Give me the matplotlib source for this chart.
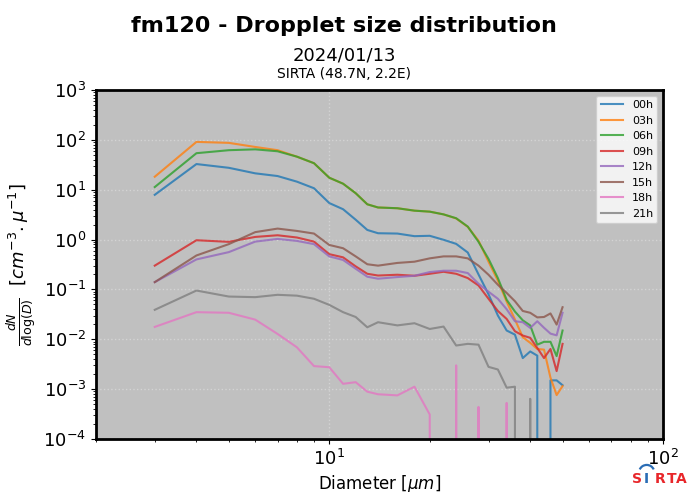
import numpy as np
import matplotlib
matplotlib.use('Agg')
import matplotlib.pyplot as plt
from matplotlib.patches import Arc

# bin diameters (um)
diam = [3, 4, 5, 6, 7, 8, 9, 10, 11, 12, 13, 14, 16, 18, 20, 22, 24, 26, 28, 30,
        32, 34, 36, 38, 40, 42, 44, 46, 48, 50]

h00 = [7.9, 32.7, 27.5, 21.3, 18.8, 14.5, 10.7, 5.4, 4.06, 2.5, 1.56, 1.34, 1.32, 1.17, 1.19,
       0.99, 0.82, 0.55, 0.2, 0.08, 0.03, 0.015, 0.0124, 0.0042, 0.0057, 0.0047, 0, 0.0015,
       0.0015, 0.0012]
h03 = [18.2, 91, 87, 72, 62, 46, 34, 17.4, 13.2, 8.5, 5.1, 4.4, 4.25, 3.8, 3.63, 3.2, 2.65,
       1.8, 0.95, 0.36, 0.15, 0.057, 0.025, 0.011, 0.0085, 0.0064, 0.0062, 0.0017, 0.00076,
       0.00115]
h06 = [11.3, 54, 62, 64.5, 59, 46, 34, 17.4, 13.2, 8.5, 5.1, 4.4, 4.25, 3.8, 3.63, 3.2, 2.68,
       1.82, 0.9, 0.41, 0.169, 0.062, 0.036, 0.024, 0.019, 0.0078, 0.0089, 0.0089, 0.0046,
       0.015]
h09 = [0.30, 0.97, 0.90, 1.13, 1.22, 1.10, 0.91, 0.51, 0.44, 0.29, 0.206, 0.19, 0.197, 0.188,
       0.206, 0.226, 0.206, 0.169, 0.12, 0.065, 0.037, 0.0256, 0.0145, 0.0119, 0.0107, 0.0067,
       0.0042, 0.0064, 0.0023, 0.0081]
h12 = [0.14, 0.40, 0.56, 0.91, 1.03, 0.94, 0.81, 0.46, 0.39, 0.26, 0.18, 0.164, 0.177, 0.188,
       0.223, 0.237, 0.237, 0.213, 0.13, 0.09, 0.065, 0.04, 0.023, 0.022, 0.0169, 0.023, 0.017,
       0.013, 0.012, 0.034]
h15 = [0.14, 0.48, 0.81, 1.41, 1.66, 1.49, 1.32, 0.78, 0.67, 0.46, 0.32, 0.30, 0.34, 0.36,
       0.42, 0.46, 0.46, 0.42, 0.30, 0.197, 0.124, 0.085, 0.058, 0.037, 0.034, 0.0275, 0.028,
       0.033, 0.0197, 0.044]
h18 = [0.0177, 0.035, 0.034, 0.0248, 0.0128, 0.0069, 0.0029, 0.00275, 0.00128, 0.00138,
       0.00089, 0.00079, 0.00075, 0.00112, 0.00031, 0, 0.003, 0, 0.00044, 0, 0, 0.00053, 0, 0,
       0, 0, 0, 0, 0, 0]
h21 = [0.039, 0.095, 0.072, 0.070, 0.078, 0.075, 0.065, 0.049, 0.035, 0.028, 0.0174, 0.022,
       0.019, 0.021, 0.0161, 0.018, 0.0075, 0.0081, 0.0078, 0.0028, 0.00248, 0.00107, 0.00112,
       0, 0.00064, 0, 0, 0, 0, 0]

hours = ['00h', '03h', '06h', '09h', '12h', '15h', '18h', '21h']
series = [h00, h03, h06, h09, h12, h15, h18, h21]

fig = plt.figure(figsize=(6.88, 4.92), dpi=100)
ax = fig.add_axes([0.1395, 0.1077, 0.8242, 0.7094])
ax.set_facecolor('#c0c0c0')

for lab, vals in zip(hours, series):
    ax.plot(diam, vals, label=lab, lw=1.5, alpha=0.8)

ax.set_xscale('log')
ax.set_yscale('log')
ax.set_xlim(2, 100)
ax.set_ylim(1e-4, 1e3)
ax.grid(True, which='major', ls=':', color='#d4d4d4', lw=1)
ax.tick_params(labelsize=13)
for s in ax.spines.values():
    s.set_linewidth(2)

ax.set_xlabel(r'Diameter [$\mu m$]', fontsize=12, labelpad=3)
ax.set_ylabel(r'$\frac{dN}{d\log(D)}$  $[cm^{-3}.\mu^{-1}]$', fontsize=13)
ax.legend(loc='upper right', fontsize=8)

fig.text(0.5, 0.947, 'fm120 - Dropplet size distribution', ha='center', va='center',
         fontsize=16, fontweight='bold')
fig.text(0.5, 0.888, '2024/01/13', ha='center', va='center', fontsize=13)
fig.text(0.5, 0.85, 'SIRTA (48.7N, 2.2E)', ha='center', va='center', fontsize=10)

# logo
letters = ['S', 'I', 'R', 'T', 'A']
cols = ['#e8262a', '#2a6db5', '#e8262a', '#e8262a', '#e8262a']
xs = [0.9255, 0.940, 0.960, 0.976, 0.991]
for c, col, xx in zip(letters, cols, xs):
    fig.text(xx, 0.026, c, color=col, fontsize=10, fontweight='bold',
             ha='center', va='center')
arc = Arc((0.940, 0.040), 0.022, 0.03, theta1=30, theta2=150, color='#2a6db5', lw=1.6,
          transform=fig.transFigure)
fig.add_artist(arc)

fig.savefig('out.png', dpi=100)
